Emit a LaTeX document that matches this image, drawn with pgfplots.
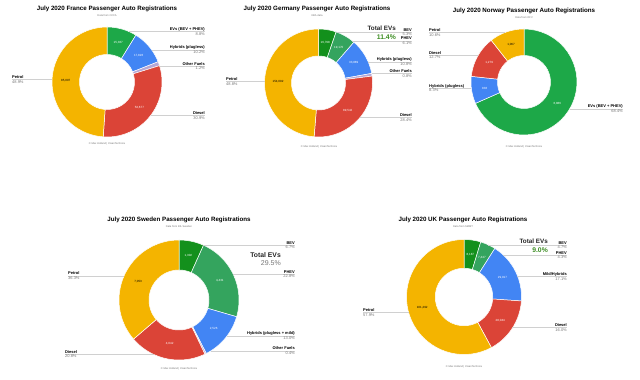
\documentclass[border=0pt]{standalone}
\usepackage{pgfplots}
\pgfplotsset{compat=1.18}
\usepackage{fontspec}
\setmainfont{Liberation Sans}
\definecolor{cPet}{HTML}{F4B400}
\definecolor{cDie}{HTML}{DB4437}
\definecolor{cHyb}{HTML}{4285F4}
\definecolor{cEV}{HTML}{1DA848}
\definecolor{cBEV}{HTML}{13901C}
\definecolor{cPHEV}{HTML}{34A45E}
\definecolor{cOth}{HTML}{B4A7D6}
\definecolor{cLine}{HTML}{D0D0D0}
\definecolor{cPct}{HTML}{777777}
\definecolor{cTot}{HTML}{3C8D22}
\newcommand\fsz[1]{\fontsize{#1}{#1}\selectfont}

% \donut{cx}{cy (from top)}{diameter}{value/colour/label/textcolour,...}
\newcommand\donut[4]{%
\begin{axis}[at={(#1pt,380pt-#2pt)}, anchor=center, scale only axis,
  width=#3pt, height=#3pt, xmin=-1, xmax=1, ymin=-1, ymax=1,
  hide axis, clip=false]
 \gdef\tot{0}%
 \foreach \v/\c/\l/\tc in {#4} {\pgfmathparse{\tot+\v}\xdef\tot{\pgfmathresult}}%
 \gdef\cum{0}%
 \foreach \v/\c/\l/\tc in {#4} {%
   \pgfmathsetmacro\A{90-360*(\cum/\tot)}%
   \pgfmathparse{\cum+\v}\xdef\cum{\pgfmathresult}%
   \pgfmathsetmacro\B{90-360*(\cum/\tot)}%
   \pgfmathsetmacro\M{(\A+\B)/2}%
   \pgfmathsetmacro\lx{0.75*cos(\M)}%
   \pgfmathsetmacro\ly{0.75*sin(\M)}%
   \edef\temp{\noexpand\addplot[fill=\c, draw=white, line width=0.5pt, domain=0:4, samples=161, variable=\noexpand\t]
     ({(\noexpand\t<1 ? 1 : (\noexpand\t<2 ? 1.5-0.5*\noexpand\t : (\noexpand\t<3 ? 0.5 : 0.5*\noexpand\t-1)))*cos(\noexpand\t<1 ? \A+(\B-(\A))*\noexpand\t : (\noexpand\t<2 ? \B : (\noexpand\t<3 ? \B+(\A-(\B))*(\noexpand\t-2) : \A)))},
      {(\noexpand\t<1 ? 1 : (\noexpand\t<2 ? 1.5-0.5*\noexpand\t : (\noexpand\t<3 ? 0.5 : 0.5*\noexpand\t-1)))*sin(\noexpand\t<1 ? \A+(\B-(\A))*\noexpand\t : (\noexpand\t<2 ? \B : (\noexpand\t<3 ? \B+(\A-(\B))*(\noexpand\t-2) : \A)))});
     \noexpand\node[font=\noexpand\fsz{3}, text=\tc, inner sep=0pt] at (axis cs:\lx,\ly) {\l};}%
   \temp
 }%
\end{axis}}

% right-side label: x_right, y_line, x_start, name, pct
\newcommand\RL[5]{%
  \draw[cLine, line width=0.35pt] (#3,#2) -- (#1,#2);
  \node[anchor=base east, inner sep=0pt, font=\bfseries\fsz{4}] at (#1,#2-0.8) {#4};
  \node[anchor=base east, inner sep=0pt, font=\fsz{4}, text=cPct] at (#1,#2+3.7) {#5};}
% left-side label: x_left, y_line, x_end, name, pct
\newcommand\LL[5]{%
  \draw[cLine, line width=0.35pt] (#1,#2) -- (#3,#2);
  \node[anchor=base west, inner sep=0pt, font=\bfseries\fsz{4}] at (#1,#2-0.8) {#4};
  \node[anchor=base west, inner sep=0pt, font=\fsz{4}, text=cPct] at (#1,#2+3.7) {#5};}
\newcommand\Title[4]{%
  \node[font=\bfseries\fsz{6.2}, inner sep=0pt] at (#1,#2) {#3};
  \node[font=\fsz{2.6}, text=cPct, inner sep=0pt] at (#1,#2+6.5) {#4};}
\newcommand\Foot[2]{\node[font=\fsz{2.6}, text=cPct, inner sep=0pt] at (#1,#2) {© Max Holland | CleanTechnica};}

\begin{document}
\begin{tikzpicture}
\useasboundingbox (0,0) rectangle (640pt,380pt);
\fill[white] (0,0) rectangle (640pt,380pt);

% France
\donut{107}{82}{110}{8.8/cEV/{15,367}/white, 10.2/cHyb/{17,826}/white, 1.2/cOth/{}/white, 30.9/cDie/{53,677}/white, 48.9/cPet/{85,097}/black}
% Germany
\donut{318.5}{83}{108}{5.3/cBEV/{16,798}/white, 6.1/cPHEV/{19,170}/white, 10.8/cHyb/{33,889}/white, 0.8/cOth/{}/white, 28.4/cDie/{89,542}/white, 48.8/cPet/{154,092}/black}
% Norway
\donut{524}{82}{106}{68.4/cEV/{6,886}/white, 8.3/cHyb/{836}/white, 12.7/cDie/{1,279}/white, 10.6/cPet/{1,067}/black}
% Sweden
\donut{179}{300}{120}{6.7/cBEV/{1,302}/white, 22.8/cPHEV/{4,431}/white, 13.0/cHyb/{2,526}/white, 0.4/cOth/{}/white, 20.8/cDie/{4,042}/white, 36.3/cPet/{7,053}/black}
% UK
\donut{464}{297}{115}{4.7/cBEV/{8,187}/white, 4.3/cPHEV/{7,447}/white, 17.1/cHyb/{29,917}/white, 16.0/cDie/{28,044}/white, 57.9/cPet/{101,292}/black}

\begin{scope}[x=1pt, y=-1pt, yshift=380pt]
% France
\Title{107}{9}{July 2020 France Passenger Auto Registrations}{Data from CCFA}
\RL{205}{31.5}{129}{EVs (BEV + PHEV)}{8.8\%}
\RL{205}{49.7}{151.5}{Hybrids (plugless)}{10.2\%}
\RL{205}{66.2}{159.7}{Other Fuels}{1.2\%}
\RL{205}{115.5}{150.6}{Diesel}{30.9\%}
\LL{12}{79.5}{52}{Petrol}{48.9\%}
\Foot{107}{144}
% Germany
\Title{317}{9}{July 2020 Germany Passenger Auto Registrations}{KBA data}
\RL{412}{32.2}{336.8}{BEV}{5.3\%}
\RL{412}{40.7}{352}{PHEV}{6.1\%}
\RL{412}{61.7}{368}{Hybrids (plugless)}{10.8\%}
\RL{412}{73.5}{371.7}{Other Fuels}{0.8\%}
\RL{412}{117.5}{360}{Diesel}{28.4\%}
\LL{226}{81.5}{264.5}{Petrol}{48.8\%}
\node[anchor=base east, inner sep=0pt, font=\bfseries\fsz{6.3}, text=black!85] at (396,31) {Total EVs};
\node[anchor=base east, inner sep=0pt, font=\bfseries\fsz{6.8}, text=cTot] at (396,39.5) {11.4\%};
\Foot{319}{147}
% Norway
\Title{524}{11}{July 2020 Norway Passenger Auto Registrations}{Data from OFV}
\LL{429}{32.5}{505}{Petrol}{10.6\%}
\LL{429}{55.3}{478}{Diesel}{12.7\%}
\LL{429}{88}{471}{Hybrids (plugless)}{8.3\%}
\RL{623}{108.8}{569.7}{EVs (BEV + PHEV)}{68.4\%}
\Foot{524}{147}
% Sweden
\Title{179}{220}{July 2020 Sweden Passenger Auto Registrations}{Data from BIL Sweden}
\RL{295}{245}{203}{BEV}{6.7\%}
\RL{295}{274.2}{233}{PHEV}{22.8\%}
\RL{295}{335.8}{227}{Hybrids (plugless + mild)}{13.0\%}
\RL{295}{350.8}{211}{Other Fuels}{0.4\%}
\LL{68}{275.8}{124}{Petrol}{36.3\%}
\LL{65}{354.3}{153.5}{Diesel}{20.8\%}
\node[anchor=base east, inner sep=0pt, font=\bfseries\fsz{6.8}, text=black!85] at (281,258) {Total EVs};
\node[anchor=base east, inner sep=0pt, font=\fsz{7}, text=cPct] at (281,266) {29.5\%};
\Foot{179}{369}
% UK
\Title{463}{220}{July 2020 UK Passenger Auto Registrations}{Data from SMMT}
\RL{567}{245.2}{487.8}{BEV}{4.7\%}
\RL{567}{255.2}{502.8}{PHEV}{4.3\%}
\RL{567}{276.5}{517}{Mild/Hybrids}{17.1\%}
\RL{567}{327.5}{512}{Diesel}{16.0\%}
\LL{363}{312.5}{409}{Petrol}{57.9\%}
\node[anchor=base east, inner sep=0pt, font=\bfseries\fsz{6.3}, text=black!85] at (548,244) {Total EVs};
\node[anchor=base east, inner sep=0pt, font=\bfseries\fsz{6.8}, text=cTot] at (548,252.5) {9.0\%};
\Foot{464}{367}
\end{scope}
\end{tikzpicture}
\end{document}
